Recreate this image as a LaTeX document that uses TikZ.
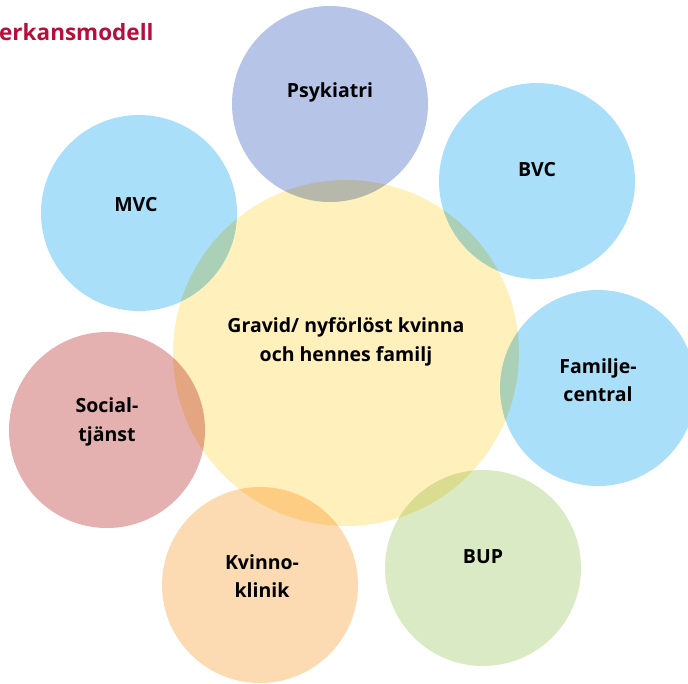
\documentclass[tikz,border=0pt]{standalone}
\usepackage{fontspec}
\setmainfont{Open Sans}
\usepackage{xcolor}
\definecolor{hubyellow}{HTML}{FFF0BC}
\definecolor{skyblue}{HTML}{AADFFA}
\definecolor{psykblue}{HTML}{B6C4E8}
\definecolor{socialred}{HTML}{E4B0B0}
\definecolor{kvinnoorange}{HTML}{FCDAB2}
\definecolor{bupgreen}{HTML}{DAEAC4}
\definecolor{titlered}{HTML}{B4103C}
\tikzset{
  ring/.style={circle, minimum size=196pt, inner sep=0pt, draw=none},
  unittext/.style={font=\bfseries\fontsize{19.5}{28.5}\selectfont, align=center, text=black},
}

\begin{document}
\begin{tikzpicture}[x=1pt, y=-1pt]
  \useasboundingbox (0,0) rectangle (688,683);
  \clip (0,0) rectangle (688,683);

  % circles
  \begin{scope}[blend mode=multiply]
    \node[ring, fill=hubyellow, minimum size=346pt] (hub) at (346,353) {};
    \node[ring, fill=psykblue] (psyk) at (330,104) {};
    \node[ring, fill=skyblue] (bvc) at (537,181) {};
    \node[ring, fill=skyblue] (mvc) at (139,213) {};
    \node[ring, fill=skyblue] (famc) at (598,388) {};
    \node[ring, fill=socialred] (soc) at (107,430) {};
    \node[ring, fill=kvinnoorange] (kvk) at (260,585) {};
    \node[ring, fill=bupgreen] (bup) at (483,568) {};
  \end{scope}

  % texts
  \node[unittext] (hubtxt) at ([yshift=11pt]hub.center) {Gravid/ nyförlöst kvinna\\och hennes familj};
  \node[unittext] (psyktxt) at ([yshift=12pt]psyk.center) {Psykiatri};
  \node[unittext] (bvctxt) at ([yshift=11pt]bvc.center) {BVC};
  \node[unittext] (mvctxt) at ([xshift=-3pt, yshift=8pt]mvc.center) {MVC};
  \node[unittext] (famctxt) at ([yshift=8pt]famc.center) {Familje-\\central};
  \node[unittext] (soctxt) at ([yshift=8pt]soc.center) {Social-\\tjänst};
  \node[unittext] (kvktxt) at ([xshift=2pt, yshift=9pt]kvk.center) {Kvinno-\\klinik};
  \node[unittext] (buptxt) at ([yshift=11pt]bup.center) {BUP};

  \node[font=\bfseries\fontsize{22.5}{26}\selectfont, text=titlered, anchor=base west, inner sep=0pt] (title) at (-1,40) {erkansmodell};
\end{tikzpicture}
\end{document}
